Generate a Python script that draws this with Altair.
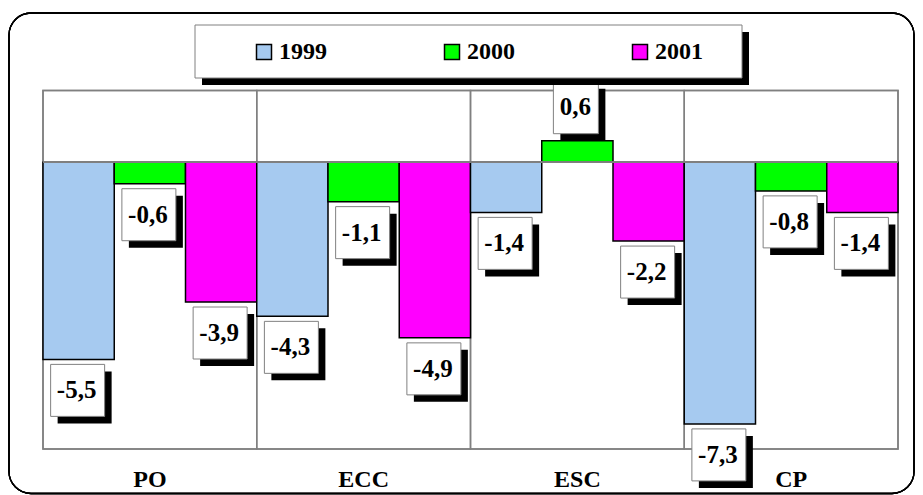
import altair as alt
import pandas as pd

categories = ["PO", "ECC", "ESC", "CP"]
series = ["1999", "2000", "2001"]
v1999 = [-5.5, -4.3, -1.4, -7.3]
v2000 = [-0.6, -1.1, 0.6, -0.8]
v2001 = [-3.9, -4.9, -2.2, -1.4]
colors = ["#A6CAF0", "#00FF00", "#FF00FF"]

rows = []
for i, c in enumerate(categories):
    for s, vals in zip(series, [v1999, v2000, v2001]):
        rows.append({"cat": c, "series": s, "value": vals[i]})
df = pd.DataFrame(rows)

FONT = "Liberation Serif"
W, H = 855, 358.5

xaxis = alt.Axis(title=None, labelAngle=0, labelFont=FONT, labelFontSize=24,
                 labelFontWeight="bold", labelColor="black",
                 labelBaseline="alphabetic", labelPadding=37, ticks=False,
                 tickSize=0, domain=False, grid=False)
xscale = alt.Scale(paddingInner=0, paddingOuter=0)
x = alt.X("cat:N", sort=categories, scale=xscale, axis=xaxis)
xo = alt.XOffset("series:N", sort=series, scale=alt.Scale(paddingInner=0, paddingOuter=0))
yscale = alt.Scale(domain=[-8, 2], nice=False)
y = alt.Y("value:Q", scale=yscale, axis=None)
color = alt.Color(
    "series:N", sort=series,
    scale=alt.Scale(domain=series, range=colors),
    legend=alt.Legend(title=None, orient="none", legendX=209, legendY=-50.5,
                      direction="horizontal", symbolType="square", symbolSize=225,
                      symbolStrokeColor="black", symbolStrokeWidth=1.5,
                      labelFont=FONT, labelFontSize=24, labelFontWeight="bold",
                      labelColor="black", labelOffset=3, columnPadding=113,
                      padding=0, rowPadding=0),
)

base = alt.Chart(df)
first = base.transform_filter("datum.series == '1999'")

frame = first.mark_rect(fill="white", fillOpacity=0, stroke="black",
                        strokeWidth=1.3, cornerRadius=22).encode(
    x=alt.value(-34), x2=alt.value(871), y=alt.value(-77.5), y2=alt.value(403))

separators = first.mark_rect(fill="white", fillOpacity=0, stroke="#808080",
                             strokeWidth=1.5).encode(x=x)

bars = base.mark_bar(stroke="black", strokeWidth=1.5).encode(
    x=x, xOffset=xo, y=y, color=color)

zero = first.transform_calculate(zero="0").mark_rule(
    color="#808080", strokeWidth=1.5).encode(
    y=alt.Y("zero:Q", scale=yscale, axis=None))

lab = base.transform_calculate(label="replace(toString(datum.value), '.', ',')")
neg = lab.transform_filter("datum.value < 0")
pos = lab.transform_filter("datum.value >= 0")

enc = dict(x=x, xOffset=xo, y=y)

neg_shadow = neg.mark_point(shape="M-21,12L33,12L33,64L-21,64Z", size=4, filled=True,
                            fill="black", strokeWidth=0, opacity=1).encode(**enc)
neg_box = neg.mark_point(shape="M-28,5L26,5L26,57L-28,57Z", size=4, filled=True,
                         fill="white", stroke="#808080", strokeWidth=1,
                         opacity=1).encode(**enc)
neg_text = neg.mark_text(font=FONT, fontSize=25, fontWeight="bold", color="black",
                         baseline="alphabetic", align="center", dx=-2, dy=39).encode(
    text="label:N", **enc)

pos_shadow = pos.mark_point(shape="M-17,-52L28,-52L28,0L-17,0Z", size=4, filled=True,
                            fill="black", strokeWidth=0, opacity=1).encode(**enc)
pos_box = pos.mark_point(shape="M-24,-59L21,-59L21,-7L-24,-7Z", size=4, filled=True,
                         fill="white", stroke="#808080", strokeWidth=1,
                         opacity=1).encode(**enc)
pos_text = pos.mark_text(font=FONT, fontSize=25, fontWeight="bold", color="black",
                         baseline="alphabetic", align="center", dx=-2, dy=-26).encode(
    text="label:N", **enc)

leg_shadow = first.transform_filter("datum.cat == 'PO'").mark_rect(fill="black").encode(
    x=alt.value(159), x2=alt.value(706), y=alt.value(-58.5), y2=alt.value(-5.5))
leg_box = first.transform_filter("datum.cat == 'PO'").mark_rect(
    fill="white", stroke="#808080", strokeWidth=1).encode(
    x=alt.value(152), x2=alt.value(699), y=alt.value(-65.5), y2=alt.value(-12.5))

chart = alt.layer(
    frame, separators, bars, zero,
    neg_shadow, neg_box, neg_text,
    pos_shadow, pos_box, pos_text,
    leg_shadow, leg_box,
).properties(
    width=W, height=H,
    padding={"left": 35, "top": 82.5, "right": 17, "bottom": 46},
    autosize=alt.AutoSizeParams(type="none"),
    background="white",
).configure_view(stroke="#808080", strokeWidth=1.5)

chart.save("out.html", embed_options={"renderer": "svg", "actions": False})
